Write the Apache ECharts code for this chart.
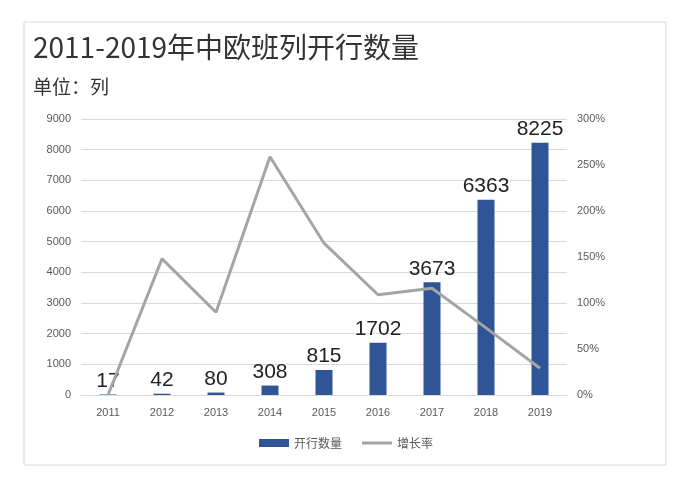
<!DOCTYPE html>
<html style='height: 100%'>
<head>
    <meta charset='utf-8'>
</head>
<body style='height: 100%; margin: 0; background: #fff'>
    <div id='container' style='height: 100%'></div>
    <script src="https://cdn.jsdelivr.net/npm/echarts@6/dist/echarts.min.js"></script>
    <script type="text/javascript">
var years = ['2011','2012','2013','2014','2015','2016','2017','2018','2019'];
var trains = [17, 42, 80, 308, 815, 1702, 3673, 6363, 8225];
var growth = [0, 148, 90, 259, 165, 109, 116, 73, 29];

var font = '"Noto Sans CJK SC", sans-serif';
var numFont = '"Liberation Sans", Arial, sans-serif';
var myChart = echarts.init(document.getElementById('container'));
var option = {
    textStyle: {fontFamily: font},
    graphic: [{
        type: 'rect',
        shape: {x: 24, y: 22, width: 642, height: 443},
        style: {fill: 'none', stroke: '#d9d9d9', lineWidth: 1}
    }],
    title: [
        {text: '2011-2019年中欧班列开行数量', left: 28, top: 28,
         textStyle: {fontSize: 28, fontWeight: 'normal', color: '#333', fontFamily: font}},
        {text: '单位：列', left: 28, top: 72,
         textStyle: {fontSize: 19, fontWeight: 'normal', color: '#333', fontFamily: font}}
    ],
    legend: {
        bottom: 34, left: 'center', itemGap: 20,
        textStyle: {fontSize: 12, color: '#595959'},
        data: [{name: '开行数量', icon: 'rect'}, {name: '增长率', icon: 'path://M0,0H30V3H0Z'}],
        itemWidth: 30, itemHeight: 8
    },
    grid: {left: 81, right: 125, top: 119, bottom: 93},
    xAxis: {
        type: 'category', data: years,
        axisLine: {lineStyle: {color: '#d9d9d9'}},
        axisTick: {show: false},
        axisLabel: {color: '#595959', fontSize: 11, margin: 12, fontFamily: numFont}
    },
    yAxis: [
        {type: 'value', min: 0, max: 9000, interval: 1000,
         axisLabel: {color: '#595959', fontSize: 11, margin: 10, fontFamily: numFont,
                     formatter: function (v) { return String(v); }},
         splitLine: {lineStyle: {color: '#d9d9d9'}}},
        {type: 'value', min: 0, max: 300, interval: 50,
         axisLabel: {color: '#595959', fontSize: 11, formatter: '{value}%', margin: 10, fontFamily: numFont},
         splitLine: {show: false}}
    ],
    series: [
        {name: '开行数量', type: 'bar', data: trains, barWidth: 17,
         itemStyle: {color: '#2F5597'},
         label: {show: true, position: 'top', fontSize: 21, color: '#222', distance: 3, fontFamily: numFont}},
        {name: '增长率', type: 'line', yAxisIndex: 1, data: growth,
         symbol: 'none', lineStyle: {color: '#A5A5A5', width: 3},
         itemStyle: {color: '#A5A5A5'}}
    ]
};
myChart.setOption(option, true);
    </script>
</body>
</html>
